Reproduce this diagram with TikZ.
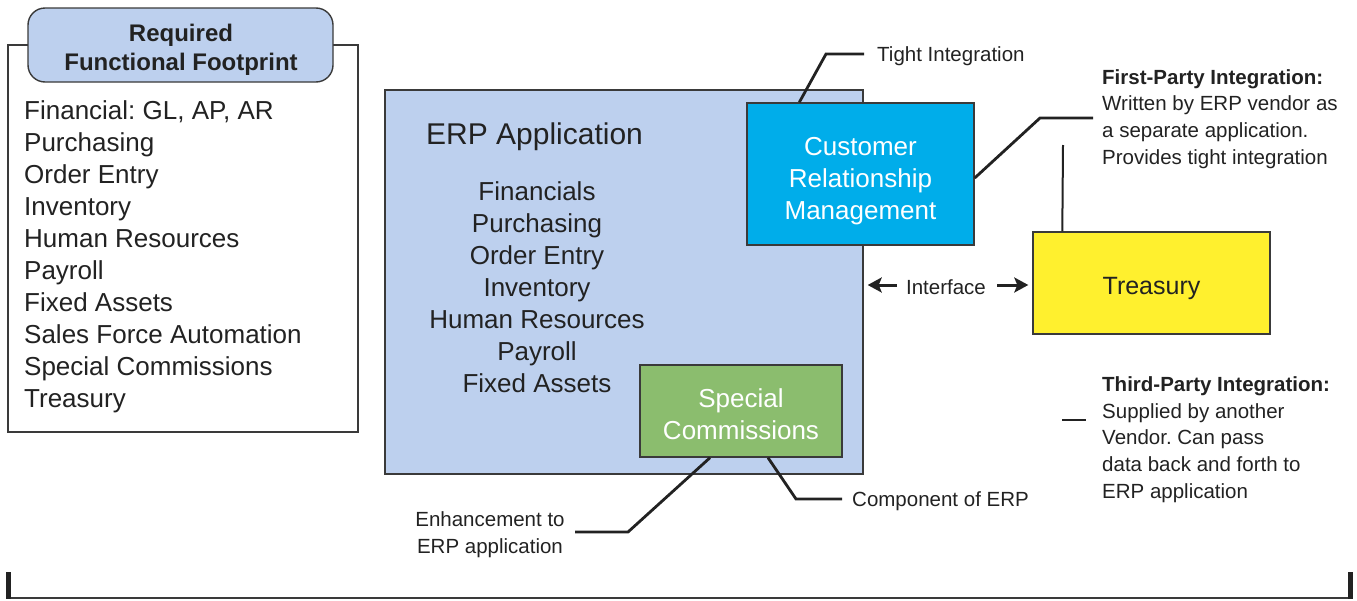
\documentclass[tikz,border=0pt]{standalone}
\usepackage{fontspec}
\setmainfont{Liberation Sans}
\usetikzlibrary{arrows.meta}
\definecolor{erpblue}{HTML}{BDD0EE}
\definecolor{crmcyan}{HTML}{00ADEA}
\definecolor{scgreen}{HTML}{8BBD6E}
\definecolor{tyellow}{HTML}{FFF02E}
\definecolor{edge}{HTML}{3A3A3A}
\definecolor{ink}{HTML}{222222}
\tikzset{
  box/.style={draw=edge, line width=1.4pt, inner sep=0pt},
  call/.style={draw=ink, line width=2.8pt},
  big/.style={font=\fontsize{26}{32}\selectfont, text=ink, inner sep=0pt},
  small/.style={font=\fontsize{20.5}{26.7}\selectfont, text=ink, inner sep=0pt},
  iarrow/.style={draw=ink, line width=3pt, -{Stealth[length=14pt,width=15pt,inset=3pt]}},
}
\begin{document}
\frenchspacing
\begin{tikzpicture}[x=1pt,y=-1pt]
\useasboundingbox (0,0) rectangle (1357,600);
% left box
\node[box, fill=white, minimum width=350pt, minimum height=387pt] (req) at (183,238.5) {};
\node[box, fill=erpblue, rounded corners=17pt, minimum width=305pt, minimum height=74pt] (hdr) at (180.5,45) {};
\node[font=\fontsize{24}{29}\selectfont\bfseries, text=ink, align=center, inner sep=0pt] (hdrt) at (181,50) {Required\\Functional Footprint};
\node[big, align=left, anchor=west] (reqlist) at (24,257) {Financial: GL, AP, AR\\Purchasing\\Order Entry\\Inventory\\Human Resources\\Payroll\\Fixed Assets\\Sales Force Automation\\Special Commissions\\Treasury};
% ERP box
\node[box, fill=erpblue, minimum width=478pt, minimum height=384pt] (erp) at (624,282) {};
\node[font=\fontsize{30}{36}\selectfont, text=ink, inner sep=0pt, anchor=west] (erpt) at (426,137) {ERP Application};
\node[big, align=center] (erplist) at (537,287) {Financials\\Purchasing\\Order Entry\\Inventory\\Human Resources\\Payroll\\Fixed Assets};
% CRM
\node[box, fill=crmcyan, minimum width=227pt, minimum height=142pt] (crm) at (860.5,174) {};
\node[big, text=white, align=center] (crmt) at (860.5,181) {Customer\\Relationship\\Management};
% Special commissions
\node[box, fill=scgreen, minimum width=202pt, minimum height=92pt] (sc) at (741,411) {};
\node[big, text=white, align=center] (sct) at (741,414) {Special\\Commissions};
% Treasury
\node[box, fill=tyellow, minimum width=237pt, minimum height=102pt] (tr) at (1151.5,283) {};
\node[big, font=\fontsize{25}{30}\selectfont] (trt) at (1151.5,288) {Treasury};
% Interface
\node[small] (iface) at (946,287) {Interface};
\coordinate (il) at (897,285);
\coordinate (ir) at (997,285);
\draw[iarrow] (il) -- ([xshift=4pt]erp.east |- il);
\draw[iarrow] (ir) -- ([xshift=-4pt]tr.west |- ir);
% Tight integration
\node[small, anchor=west] (tight) at (877,56) {Tight Integration};
\coordinate (t1) at (826,54);
\draw[call] ([xshift=53pt]crm.north west) -- (t1) -- ([xshift=-13pt]tight.west |- t1);
% First-party
\node[small, align=left, anchor=north west] (first) at (1102,69) {\textbf{First-Party Integration:}\\Written by ERP vendor as\\a separate application.\\Provides tight integration};
\coordinate (f1) at (1040,118);
\coordinate (f2) at (1093,118);
\draw[call] ([yshift=-4pt]crm.east) -- (f1) -- (f2);
\coordinate (v1) at (1063,145);
\draw[draw=ink, line width=2pt] ([xshift=30pt]tr.north west) -- (v1);
% Third-party
\node[small, align=left, anchor=north west] (third) at (1102,376.5) {\textbf{Third-Party Integration:}\\Supplied by another\\Vendor. Can pass\\data back and forth to\\ERP application};
\coordinate (d1) at (1062,420);
\coordinate (d2) at (1086,420);
\draw[call] (d1) -- (d2);
% Special commission callouts
\node[small, align=center] (enh) at (490,535) {Enhancement to\\ERP application};
\coordinate (e1) at (628,532);
\coordinate (e2) at (575,532);
\draw[call] ([xshift=-31pt]sc.south) -- (e1) -- (e2);
\node[small, anchor=west] (comp) at (852,501) {Component of ERP};
\coordinate (c1) at (796,499);
\draw[call] ([xshift=27pt]sc.south) -- (c1) -- ([xshift=-10pt]comp.west |- c1);
% bottom rule
\coordinate (b1) at (8,572);
\coordinate (b2) at (8,598);
\coordinate (b3) at (1350,598);
\coordinate (b4) at (1350,572);
\draw[draw=edge, line width=2pt] (b2) -- (b3);
\draw[draw=ink, line width=5pt] (b1) -- ([yshift=-1pt]b2);
\draw[draw=ink, line width=5pt] (b4) -- ([yshift=-1pt]b3);
\end{tikzpicture}
\end{document}
